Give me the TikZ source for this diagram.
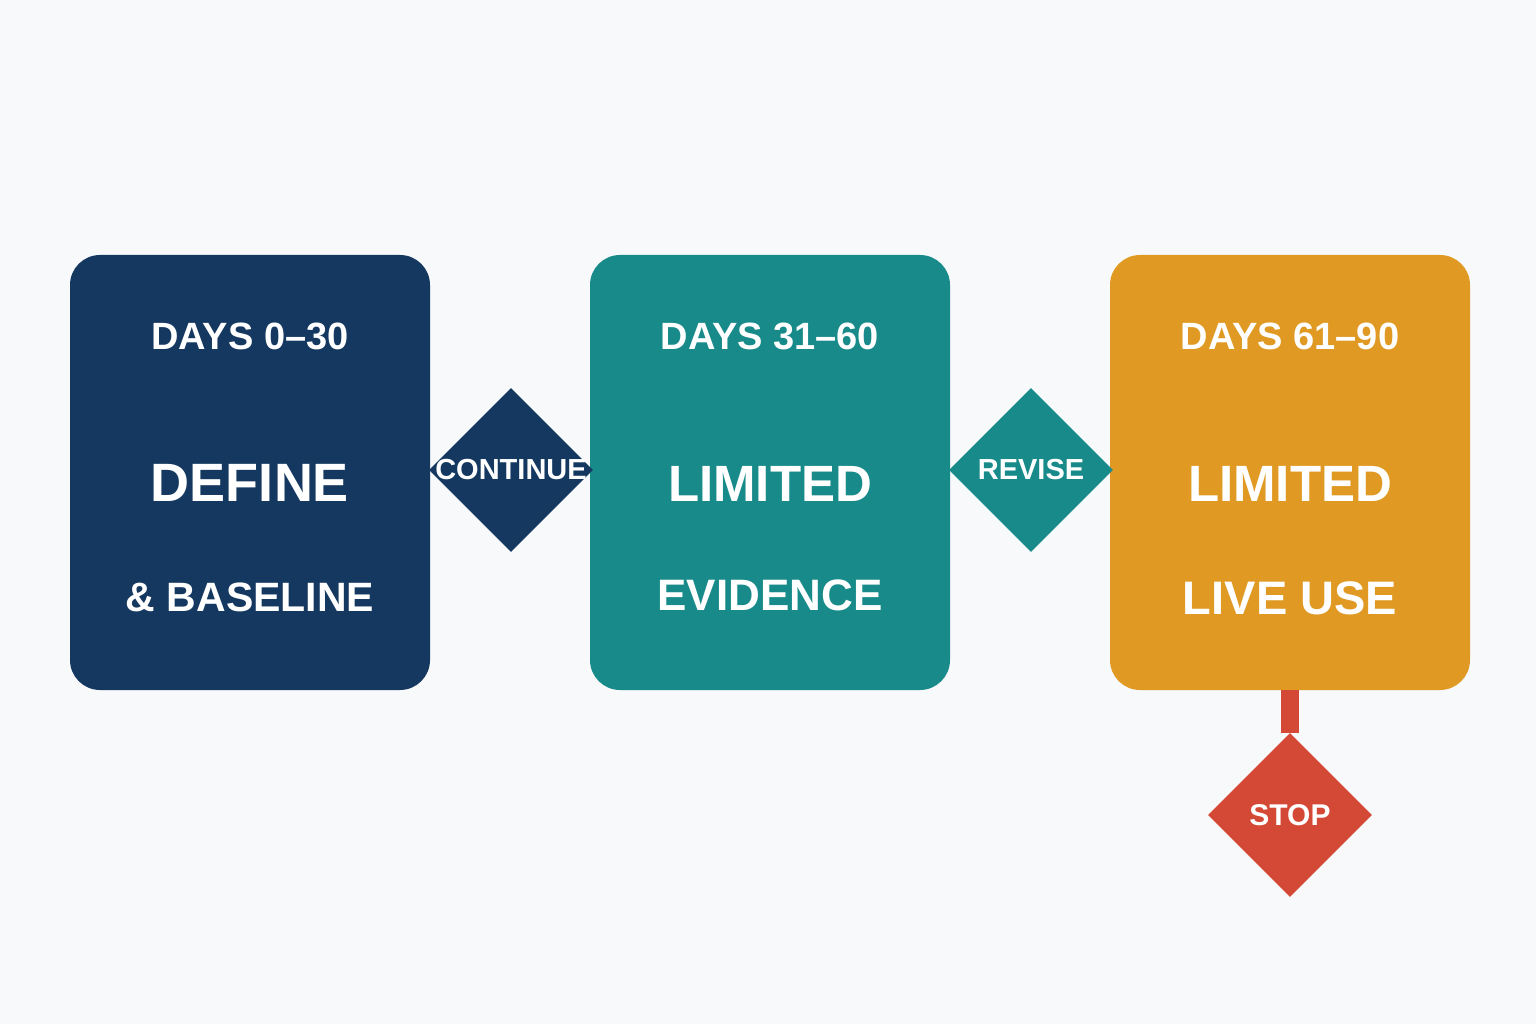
\documentclass[tikz,border=0pt]{standalone}
\usepackage{fontspec}
\setmainfont{Liberation Sans}
\usetikzlibrary{shapes.geometric}
\definecolor{bgc}{HTML}{F8F9FA}
\definecolor{navyc}{HTML}{143860}
\definecolor{tealc}{HTML}{188A8A}
\definecolor{orangec}{HTML}{E09A24}
\definecolor{redc}{HTML}{D44935}
\tikzset{
  phasebox/.style={rectangle, rounded corners=30pt, minimum width=360pt, minimum height=435pt, inner sep=0pt, draw=none},
  gate/.style={diamond, aspect=1, minimum width=164pt, minimum height=164pt, inner sep=0pt, draw=none},
  gatetext/.style={text=white, inner sep=0pt, font=\bfseries\fontsize{29}{29}\selectfont},
  lbl/.style={anchor=base, text=white, inner sep=0pt},
  days/.style={lbl, font=\bfseries\fontsize{38}{38}\selectfont},
}
\begin{document}
\begin{tikzpicture}[x=1pt,y=-1pt]
\useasboundingbox (0,0) rectangle (1536,1024);
\fill[bgc] (0,0) rectangle (1536,1024);
% boxes
\node[phasebox, fill=orangec] (b3) at (1290,472.5) {};
\node[phasebox, fill=navyc] (b1) at (250,472.5) {};
\node[phasebox, fill=tealc] (b2) at (770,472.5) {};
% stop gate and connector
\node[gate, fill=redc] (stop) at (1290,815) {};
\node[gatetext, font=\bfseries\fontsize{30}{30}\selectfont] (stoptext) at (stop.center) {STOP};
\draw[redc, line width=18pt] (b3.south) -- (stop.north);
% gates
\node[gate, fill=navyc] (cont) at (511,470) {};
\node[gatetext] (conttext) at (cont.center) {CONTINUE};
\node[gate, fill=tealc] (rev) at (1031,470) {};
\node[gatetext] (revtext) at (rev.center) {REVISE};
% box texts
\node[days] (d1) at (250,349) {DAYS 0–30};
\node[days] (d2) at (770,349) {DAYS 31–60};
\node[days] (d3) at (1290,349) {DAYS 61–90};
\node[lbl, font=\bfseries\fontsize{54}{54}\selectfont] (t1a) at (250,501.5) {DEFINE};
\node[lbl, font=\bfseries\fontsize{41}{41}\selectfont] (t1b) at (250,611) {\& BASELINE};
\node[lbl, font=\bfseries\fontsize{51}{51}\selectfont] (t2a) at (770,501) {LIMITED};
\node[lbl, font=\bfseries\fontsize{44}{44}\selectfont] (t2b) at (770,610) {EVIDENCE};
\node[lbl, font=\bfseries\fontsize{51}{51}\selectfont] (t3a) at (1290,501) {LIMITED};
\node[lbl, font=\bfseries\fontsize{47}{47}\selectfont] (t3b) at (1290,614) {LIVE USE};
\end{tikzpicture}
\end{document}
